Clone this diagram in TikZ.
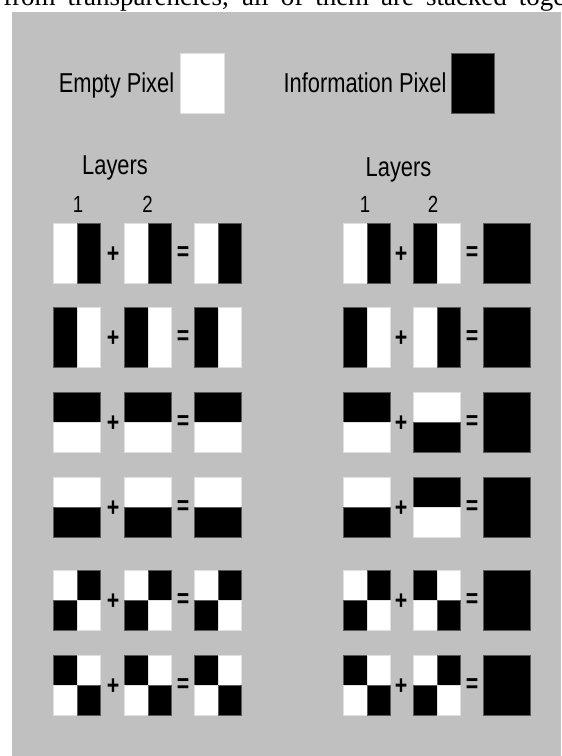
\documentclass[tikz,border=0pt]{standalone}
\usepackage{fontspec}
\setmainfont{Liberation Serif}
\newfontfamily\narrowsans[FakeStretch=0.8]{Liberation Sans}
\definecolor{panelgray}{HTML}{C0C0C0}

% shares of 47 x 60 px, drawn from the top left corner of a scope
\newcommand{\patVWB}{\draw[wpx] (0,0) rectangle (24,60); \draw[bpx] (24,0) rectangle (47,60);}
\newcommand{\patVBW}{\draw[bpx] (0,0) rectangle (24,60); \draw[wpx] (24,0) rectangle (47,60);}
\newcommand{\patHBW}{\draw[bpx] (0,0) rectangle (47,30); \draw[wpx] (0,30) rectangle (47,60);}
\newcommand{\patHWB}{\draw[wpx] (0,0) rectangle (47,30); \draw[bpx] (0,30) rectangle (47,60);}
\newcommand{\patCWB}{\draw[wpx] (0,0) rectangle (24,30); \draw[bpx] (24,0) rectangle (47,30);
                     \draw[bpx] (0,30) rectangle (24,60); \draw[wpx] (24,30) rectangle (47,60);}
\newcommand{\patCBW}{\draw[bpx] (0,0) rectangle (24,30); \draw[wpx] (24,0) rectangle (47,30);
                     \draw[wpx] (0,30) rectangle (24,60); \draw[bpx] (24,30) rectangle (47,60);}
\newcommand{\patFULL}{\draw[bpx] (0,0) rectangle (47,60);}
\newcommand{\sharebox}[3]{\begin{scope}[shift={(#1,#2)}]\csname pat#3\endcsname\end{scope}}

\begin{document}
\begin{tikzpicture}[x=0.75pt, y=-0.75pt,
  label/.style={font=\narrowsans\fontsize{20.5pt}{24pt}\selectfont, inner sep=0pt, anchor=base},
  digit/.style={font=\narrowsans\fontsize{17.5pt}{20pt}\selectfont, inner sep=0pt, anchor=base},
  op/.style={font=\narrowsans\bfseries\fontsize{20pt}{24pt}\selectfont, inner sep=0pt},
  wpx/.style={fill=white, draw=black!12, line width=0.6pt},
  bpx/.style={fill=black, draw=black!65, line width=0.6pt},
  textline/.style={font=\fontsize{20.25pt}{24pt}\selectfont, inner sep=0pt, anchor=base west}
]
  \useasboundingbox (0,0) rectangle (561,756);

  % cut-off line of running text above the figure
  \begin{scope}
    \clip (0,0) rectangle (561,12);
    \node[textline] (runtext) at (3,5.5)
      {\makebox[453pt][s]{from transparencies, all of them are stacked together}};
  \end{scope}

  \fill[panelgray] (12,12) rectangle (561,756);

  % legend
  \node[label] (hdrE) at (116.5,93) {Empty Pixel};
  \draw[wpx] (180,53) rectangle (224,113);
  \node[label] (hdrI) at (365,93) {Information Pixel};
  \draw[bpx] (451,53) rectangle (494,113);

  \node[label] (layL) at (115,175) {Layers};
  \node[digit] (oneL) at (78,212) {1};
  \node[digit] (twoL) at (147.5,212) {2};
  \node[label] (layR) at (398.5,176) {Layers};
  \node[digit] (oneR) at (365,212) {1};
  \node[digit] (twoR) at (433,212) {2};

  \foreach \y/\lpat/\rpat [count=\i] in {223/VWB/VBW, 307/VBW/VWB, 392/HBW/HWB,
                                         477/HWB/HBW, 570/CWB/CBW, 655/CBW/CWB} {
    % left: identical shares
    \sharebox{53}{\y}{\lpat}
    \node[op] (lplus\i) at (113,\y+32) {+};
    \sharebox{124}{\y}{\lpat}
    \node[op] (leq\i) at (183,\y+31) {=};
    \sharebox{194}{\y}{\lpat}
    % right: complementary shares
    \sharebox{343}{\y}{\lpat}
    \node[op] (rplus\i) at (401,\y+32) {+};
    \sharebox{413}{\y}{\rpat}
    \node[op] (req\i) at (472,\y+31) {=};
    \sharebox{483}{\y}{FULL}
  }
\end{tikzpicture}
\end{document}
